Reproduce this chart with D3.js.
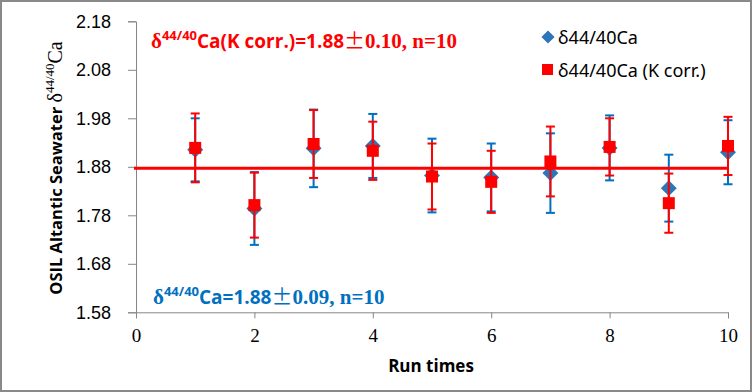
<!DOCTYPE html>
<html>
<head>
<meta charset="utf-8">
<script src="https://cdn.jsdelivr.net/npm/d3@7"></script>
<style>
  body { margin: 0; background: #fff; }
  svg { display: block; }
</style>
</head>
<body>
<div id="chart"></div>
<script>
// Run numbers
const runs = [1, 2, 3, 4, 5, 6, 7, 8, 9, 10];

// δ44/40Ca (raw) and its error bars
const caRaw = [1.915, 1.794, 1.918, 1.923, 1.862, 1.858, 1.867, 1.919, 1.836, 1.910];
const caRawErr = [0.065, 0.075, 0.080, 0.066, 0.076, 0.070, 0.082, 0.067, 0.069, 0.066];

// δ44/40Ca (K corrected) and its error bars
const caCorr = [1.919, 1.801, 1.927, 1.913, 1.860, 1.849, 1.891, 1.921, 1.805, 1.923];
const caCorrErr = [0.071, 0.067, 0.070, 0.060, 0.068, 0.064, 0.072, 0.059, 0.061, 0.060];

// mean line
const meanLineX = [0, 10];
const meanValue = 1.877;

// axis ticks
const xTicks = [0, 2, 4, 6, 8, 10];
const yTicks = [1.58, 1.68, 1.78, 1.88, 1.98, 2.08, 2.18];

const width = 752;
const height = 392;

const blueMark = "#2e75b6";
const blueBar = "#0070c0";
const red = "#ff0000";
const axisGrey = "#868686";

const svg = d3.select("#chart")
  .append("svg")
  .attr("width", width)
  .attr("height", height);

// outer frame
svg.append("rect")
  .attr("x", 1).attr("y", 1)
  .attr("width", width - 2).attr("height", height - 2)
  .attr("fill", "#fff")
  .attr("stroke", "#898989")
  .attr("stroke-width", 2);

const x = d3.scaleLinear().domain([0, 10]).range([136, 728]);
const y = d3.scaleLinear().domain([1.58, 2.18]).range([312.3, 21.3]);

// y axis
const yAxis = svg.append("g")
  .attr("transform", `translate(${x(0)},0)`)
  .call(d3.axisLeft(y).tickValues(yTicks).tickSize(8).tickPadding(17)
    .tickFormat(d3.format(".2f")));
yAxis.select(".domain").attr("stroke", axisGrey);
yAxis.selectAll(".tick line").attr("stroke", axisGrey);
yAxis.selectAll(".tick text")
  .attr("font-family", "'Liberation Sans', Arial, sans-serif")
  .attr("font-size", 18)
  .attr("fill", "#000");

// x axis
const xAxis = svg.append("g")
  .attr("transform", `translate(0,${y(1.58)})`)
  .call(d3.axisBottom(x).tickValues(xTicks).tickSize(6).tickPadding(10)
    .tickFormat(d3.format("d")));
xAxis.select(".domain").attr("stroke", axisGrey);
xAxis.selectAll(".tick line").attr("stroke", axisGrey);
xAxis.selectAll(".tick text")
  .attr("font-family", "'Liberation Serif', 'Times New Roman', serif")
  .attr("font-size", 19)
  .attr("fill", "#000");

// axis titles
svg.append("text")
  .attr("x", 431)
  .attr("y", 372)
  .attr("text-anchor", "middle")
  .attr("font-family", "'Open Sans', 'Liberation Sans', sans-serif")
  .attr("font-weight", "bold")
  .attr("font-size", 17)
  .text("Run times");

const yTitle = svg.append("text")
  .attr("transform", "translate(62,168) rotate(-90)")
  .attr("text-anchor", "middle")
  .attr("font-size", 16.5);
yTitle.append("tspan")
  .attr("font-family", "'Open Sans', 'Liberation Sans', sans-serif")
  .attr("font-weight", "bold")
  .text("OSIL Altantic Seawater ");
yTitle.append("tspan")
  .attr("font-family", "'Liberation Serif', serif")
  .attr("font-size", 20)
  .text("δ");
yTitle.append("tspan")
  .attr("font-family", "'Liberation Serif', serif")
  .attr("font-size", 13)
  .attr("dy", -8)
  .text("44/40");
yTitle.append("tspan")
  .attr("font-family", "'Liberation Serif', serif")
  .attr("font-size", 20)
  .attr("dy", 8)
  .text("Ca");

// error bars helper
function errorBars(vals, errs, color) {
  const g = svg.append("g").attr("stroke", color).attr("stroke-width", 2);
  runs.forEach((r, i) => {
    const cx = x(r);
    const top = y(vals[i] + errs[i]);
    const bot = y(vals[i] - errs[i]);
    g.append("line").attr("x1", cx).attr("x2", cx).attr("y1", top).attr("y2", bot);
    g.append("line").attr("x1", cx - 4.5).attr("x2", cx + 4.5).attr("y1", top).attr("y2", top);
    g.append("line").attr("x1", cx - 4.5).attr("x2", cx + 4.5).attr("y1", bot).attr("y2", bot);
  });
}

// raw series
errorBars(caRaw, caRawErr, blueBar);
svg.append("g").selectAll("path")
  .data(runs)
  .join("path")
  .attr("d", d3.symbol(d3.symbolDiamond2, 162)())
  .attr("transform", (d, i) => `translate(${x(d)},${y(caRaw[i])})`)
  .attr("fill", blueMark);

// mean line
svg.append("line")
  .attr("x1", x(meanLineX[0]) - 2)
  .attr("x2", x(meanLineX[1]))
  .attr("y1", y(meanValue))
  .attr("y2", y(meanValue))
  .attr("stroke", red)
  .attr("stroke-width", 3);

// K corrected series
errorBars(caCorr, caCorrErr, red);
svg.append("g").selectAll("rect")
  .data(runs)
  .join("rect")
  .attr("x", d => x(d) - 6)
  .attr("y", (d, i) => y(caCorr[i]) - 6)
  .attr("width", 12)
  .attr("height", 12)
  .attr("fill", red);

// annotations
function annotation(xPos, yPos, color, mid, tail) {
  const t = svg.append("text")
    .attr("x", xPos).attr("y", yPos)
    .attr("fill", color)
    .attr("font-weight", "bold")
    .attr("font-size", 19);
  t.append("tspan").attr("font-family", "'Liberation Serif', serif").attr("font-size", 21).text("δ");
  t.append("tspan").attr("font-family", "'Open Sans', 'Liberation Sans', sans-serif")
    .attr("font-size", 13).attr("dy", -8).text("44/40");
  t.append("tspan").attr("font-family", "'Open Sans', 'Liberation Sans', sans-serif")
    .attr("dy", 8).text(mid);
  t.append("tspan").attr("font-family", "'Noto Sans CJK SC', 'Liberation Serif', serif")
    .attr("font-weight", "normal").attr("font-size", 21).text("±");
  t.append("tspan").attr("font-family", "'Liberation Serif', serif")
    .attr("font-size", 21).text(tail);
}
annotation(151, 48, red, "Ca(K corr.)=1.88", "0.10, n=10");
annotation(153, 304, "#0070c0", "Ca=1.88", "0.09, n=10");

// legend
const legend = svg.append("g")
  .attr("font-family", "'Noto Sans', 'Liberation Sans', sans-serif")
  .attr("font-size", 18);
legend.append("path")
  .attr("d", d3.symbol(d3.symbolDiamond2, 110)())
  .attr("transform", "translate(548,37)")
  .attr("fill", blueMark);
legend.append("text").attr("x", 558).attr("y", 44).text("δ44/40Ca");
legend.append("rect")
  .attr("x", 542).attr("y", 64).attr("width", 11).attr("height", 11)
  .attr("fill", red);
legend.append("text").attr("x", 558).attr("y", 77).text("δ44/40Ca (K corr.)");
</script>
</body>
</html>
